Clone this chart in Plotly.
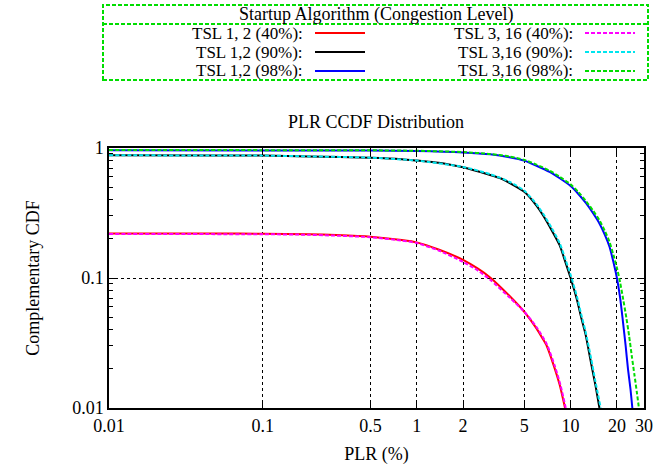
import plotly.graph_objects as go

# ---- data: PLR (%) vs complementary CDF for each startup algorithm / load ----
tsl12_40_x = [0.01, 0.05, 0.1, 0.2, 0.3, 0.5, 0.8, 1.0, 1.4, 2.0, 2.5, 3.0, 4.0, 5.0, 6.0, 6.6, 7.0, 7.9, 8.5, 9.2]
tsl12_40_y = [0.22, 0.22, 0.219, 0.217, 0.214, 0.208, 0.196, 0.188, 0.165, 0.138, 0.118, 0.101, 0.073, 0.055, 0.041, 0.034, 0.030, 0.020, 0.015, 0.010]

tsl12_90_x = [0.01, 0.05, 0.1, 0.2, 0.5, 0.8, 1, 1.5, 2, 3, 3.5, 4, 5, 6, 6.6, 7.5, 8.5, 9.3, 10, 11, 11.7, 12.5, 13.6, 14.5, 15.4]
tsl12_90_y = [0.878, 0.877, 0.874, 0.862, 0.842, 0.82, 0.80, 0.76, 0.71, 0.62, 0.585, 0.54, 0.46, 0.36, 0.305, 0.235, 0.178, 0.13, 0.10, 0.068, 0.050, 0.037, 0.022, 0.015, 0.010]

tsl12_98_x = [0.01, 0.1, 0.5, 1, 2, 3, 4, 5, 6, 7.3, 8.5, 10, 11.2, 12.6, 14, 15.4, 16.7, 17.9, 19, 20, 21, 21.9, 22.8, 23.6, 24.5, 25.2]
tsl12_98_y = [0.96, 0.958, 0.955, 0.948, 0.925, 0.895, 0.85, 0.80, 0.73, 0.655, 0.585, 0.51, 0.445, 0.376, 0.315, 0.263, 0.215, 0.174, 0.132, 0.10, 0.07, 0.046, 0.030, 0.020, 0.014, 0.010]

tsl316_40_x = [0.01, 0.1, 0.2, 0.5, 0.8, 1, 1.4, 2, 2.5, 3, 4, 5, 6, 7, 7.9, 8.6, 9.3]
tsl316_40_y = [0.218, 0.217, 0.215, 0.206, 0.194, 0.186, 0.162, 0.133, 0.114, 0.097, 0.071, 0.055, 0.042, 0.031, 0.021, 0.015, 0.010]

tsl316_90_x = [0.01, 0.1, 0.2, 0.5, 1, 2, 3, 4, 5, 6, 6.6, 7.5, 8.5, 9.3, 10, 11, 11.7, 12.5, 13.6, 14.5, 15.7]
tsl316_90_y = [0.878, 0.874, 0.862, 0.843, 0.80, 0.715, 0.63, 0.55, 0.47, 0.37, 0.315, 0.245, 0.185, 0.137, 0.106, 0.072, 0.053, 0.039, 0.024, 0.016, 0.010]

tsl316_98_x = [0.01, 0.1, 0.5, 1, 2, 3, 4, 5, 6, 7.3, 8.5, 10, 11.2, 12.6, 14, 15.4, 16.7, 17.9, 19, 20, 21, 22, 23, 24, 25, 26, 27, 27.8]
tsl316_98_y = [0.965, 0.963, 0.96, 0.952, 0.93, 0.90, 0.86, 0.81, 0.745, 0.67, 0.60, 0.525, 0.46, 0.39, 0.33, 0.278, 0.23, 0.19, 0.15, 0.12, 0.092, 0.068, 0.050, 0.036, 0.025, 0.018, 0.013, 0.010]

x_ticks = [0.01, 0.1, 0.5, 1, 2, 5, 10, 20, 30]
x_tick_text = ["0.01", "0.1", "0.5", "1", "2", "5", "10", "20", "30"]
y_ticks = [0.01, 0.1, 1]
y_tick_text = ["0.01", "0.1", "1"]
y_minor = [0.02, 0.03, 0.04, 0.05, 0.06, 0.07, 0.08, 0.09,
           0.2, 0.3, 0.4, 0.5, 0.6, 0.7, 0.8, 0.9]

GREEN = "#00dd00"
DASH = "4px,2px"
FONT = "Liberation Serif"
FS = 18
FS_KEY = 17

series = [
    ("TSL 1, 2 (40%)", tsl12_40_x, tsl12_40_y, "#ff0000", "solid"),
    ("TSL 1,2 (90%)", tsl12_90_x, tsl12_90_y, "#000000", "solid"),
    ("TSL 1,2 (98%)", tsl12_98_x, tsl12_98_y, "#0000ff", "solid"),
    ("TSL 3, 16 (40%)", tsl316_40_x, tsl316_40_y, "#ff00ff", DASH),
    ("TSL 3,16 (90%)", tsl316_90_x, tsl316_90_y, "#00e5ee", DASH),
    ("TSL 3,16 (98%)", tsl316_98_x, tsl316_98_y, GREEN, DASH),
]

fig = go.Figure()
for name, xs, ys, color, dash in series:
    fig.add_trace(go.Scatter(x=xs, y=ys, mode="lines", name=name,
                             line=dict(color=color, width=2, dash=dash,
                                       shape="spline", smoothing=0.6),
                             showlegend=False))

# plot-area geometry (pixels)
W_FIG, H_FIG = 667, 466
L, R, T, B = 109, 644, 148, 408
PW, PH = R - L, B - T


def xp(px):
    return (px - L) / PW


def yp(py):
    return (B - py) / PH


shapes = []
annotations = []

# legend frame with title separator
shapes.append(dict(type="rect", xref="paper", yref="paper",
                   x0=xp(103), x1=xp(648), y0=yp(80), y1=yp(5),
                   line=dict(color=GREEN, width=2, dash="4px,2px")))
shapes.append(dict(type="line", xref="paper", yref="paper",
                   x0=xp(103), x1=xp(648), y0=yp(24), y1=yp(24),
                   line=dict(color=GREEN, width=2, dash="4px,2px")))
annotations.append(dict(text="Startup Algorithm (Congestion Level)",
                        xref="paper", yref="paper", x=xp(376), y=yp(14.5),
                        xanchor="center", yanchor="middle", showarrow=False,
                        borderpad=0,
                        font=dict(family=FONT, size=FS, color="black")))

rows = [33, 52, 71]
columns = [(304, 315, 365), (574, 585, 635)]
for i, (name, xs, ys, color, dash) in enumerate(series):
    col = columns[i // 3]
    row_y = rows[i % 3]
    annotations.append(dict(text=name + ":", xref="paper", yref="paper",
                            x=xp(col[0]), y=yp(row_y), xanchor="right",
                            yanchor="middle", showarrow=False, borderpad=0,
                            font=dict(family=FONT, size=FS_KEY, color="black")))
    shapes.append(dict(type="line", xref="paper", yref="paper",
                       x0=xp(col[1]), x1=xp(col[2]), y0=yp(row_y), y1=yp(row_y),
                       line=dict(color=color, width=2, dash=dash)))

axis_common = dict(
    type="log", showline=True, linecolor="black", linewidth=1.5, mirror="allticks",
    ticks="inside", tickcolor="black", ticklen=7, automargin=False,
    showgrid=True, gridcolor="black", gridwidth=1, griddash="dot",
    zeroline=False, tickfont=dict(family=FONT, size=FS, color="black"),
)

fig.update_layout(
    width=W_FIG, height=H_FIG,
    margin=dict(l=L, r=W_FIG - R, t=T, b=H_FIG - B),
    paper_bgcolor="white", plot_bgcolor="white",
    font=dict(family=FONT, size=FS, color="black"),
    title=dict(text="PLR CCDF Distribution", x=xp(376), xref="paper",
               y=1 - 122 / H_FIG, yanchor="middle", xanchor="center",
               font=dict(family=FONT, size=FS, color="black")),
    xaxis=dict(axis_common, range=[-2, 1.4771], tickvals=x_ticks, ticktext=x_tick_text,
               ticklabelstandoff=1,
               title=dict(text="PLR (%)", standoff=12,
                          font=dict(family=FONT, size=FS, color="black"))),
    yaxis=dict(axis_common, range=[-2, 0], tickvals=y_ticks, ticktext=y_tick_text,
               minor=dict(tickvals=y_minor, ticks="inside", ticklen=4,
                          tickcolor="black", showgrid=False),
               title=dict(text="Complementary CDF", standoff=28,
                          font=dict(family=FONT, size=FS, color="black"))),
    shapes=shapes,
    annotations=annotations,
)

fig.write_html("out.html")
